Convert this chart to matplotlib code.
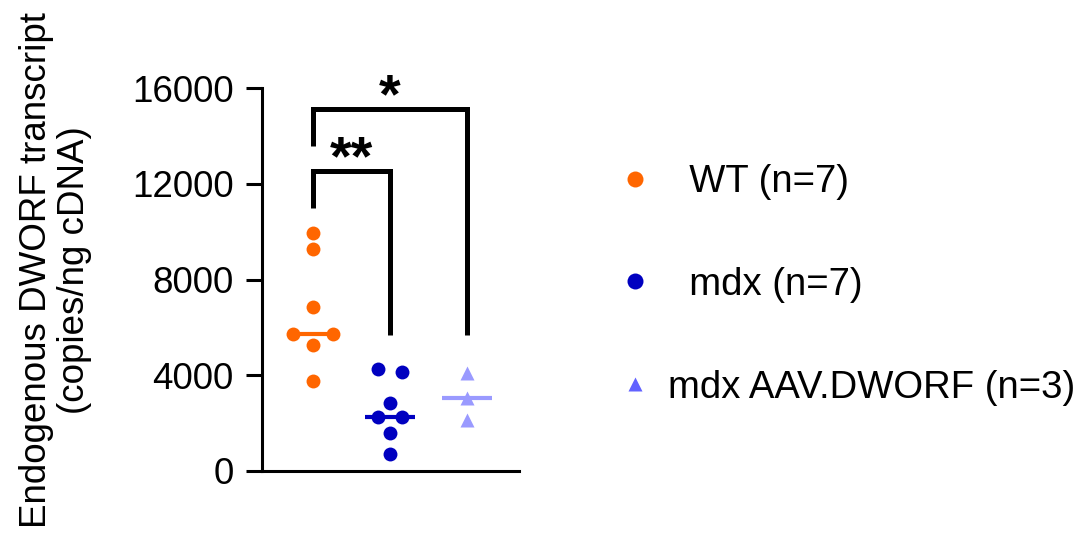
import numpy as np
import matplotlib
matplotlib.use('Agg')
from matplotlib import pyplot as plt

plt.rcParams['font.family'] = ['Liberation Sans', 'DejaVu Sans']

# values (copies/ng cDNA)
groups = ['WT (n=7)', 'mdx (n=7)', 'mdx AAV.DWORF (n=3)']
wt = [9930, 9270, 6840, 5720, 5720, 5260, 3760]
mdx = [4250, 4150, 2850, 2270, 2270, 1570, 710]
aav = [4110, 3040, 2130]
yticks = [0, 4000, 8000, 12000, 16000]

# horizontal spread of overlapping points (layout only)
wt_dx = [0, 0, 0, -0.26, 0.26, 0, 0]
mdx_dx = [-0.155, 0.155, 0, -0.155, 0.155, 0, 0]
aav_dx = [0, 0, 0]

colors = ['#FF6600', '#0000C0', '#9A9AFF']
legend_colors = ['#FF6600', '#0000C0', '#6262FF']
markers = ['o', 'o', '^']
labels = ['  WT (n=7)', '  mdx (n=7)', 'mdx AAV.DWORF (n=3)']

fig = plt.figure(figsize=(10.77, 5.35), dpi=100)
ax = fig.add_axes([262/1077, 1 - 471/535, 257/1077, 383/535])

handles = []
for i, (vals, dx) in enumerate(zip([wt, mdx, aav], [wt_dx, mdx_dx, aav_dx])):
    x = np.array(dx) + i
    ax.plot(x, vals, ls='none', marker=markers[i], ms=10, mec='none',
            color=colors[i], clip_on=False, zorder=3)
    med = np.median(vals)
    ax.plot([i - 0.33, i + 0.33], [med, med], color=colors[i], lw=3,
            solid_capstyle='butt', zorder=2)
    h, = ax.plot([], [], ls='none', marker=markers[i], ms=11.5 if i < 2 else 10.5,
                 mec='none', color=legend_colors[i])
    handles.append(h)

# significance brackets
br = dict(color='black', lw=3.6, clip_on=False, solid_capstyle='butt',
          solid_joinstyle='miter')
ax.plot([0, 0, 2, 2], [13580, 15120, 15120, 5680], **br)
ax.plot([0, 0, 1, 1], [10990, 12530, 12530, 5680], **br)
ax.text(1, 15000, '*', ha='center', va='baseline', fontsize=40,
        fontweight='bold', clip_on=False)
ax.text(0.5, 12400, '**', ha='center', va='baseline', fontsize=40,
        fontweight='bold', clip_on=False)

ax.set_xlim(-0.662, 2.675)
ax.set_ylim(0, 16000)
ax.set_yticks(yticks)
ax.set_yticklabels([str(t) for t in yticks])
ax.set_xticks([])
for s in ['top', 'right']:
    ax.spines[s].set_visible(False)
for s in ['left', 'bottom']:
    ax.spines[s].set_linewidth(2.2)
ax.tick_params(axis='y', length=11.5, width=2.2, labelsize=26.5, pad=9)

ax.set_ylabel('Endogenous DWORF transcript\n(copies/ng cDNA)', fontsize=26.5,
              linespacing=1.12)
ax.yaxis.set_label_coords(-0.66, 0.525)

ax.legend(handles, labels, loc='upper left', bbox_to_anchor=(620/1077, 1 - 164/535),
          bbox_transform=fig.transFigure, frameon=False, fontsize=27.5,
          handlelength=0.8, handletextpad=0.45, labelspacing=1.75, borderpad=0,
          borderaxespad=0)

fig.savefig('out.png', dpi=100)
